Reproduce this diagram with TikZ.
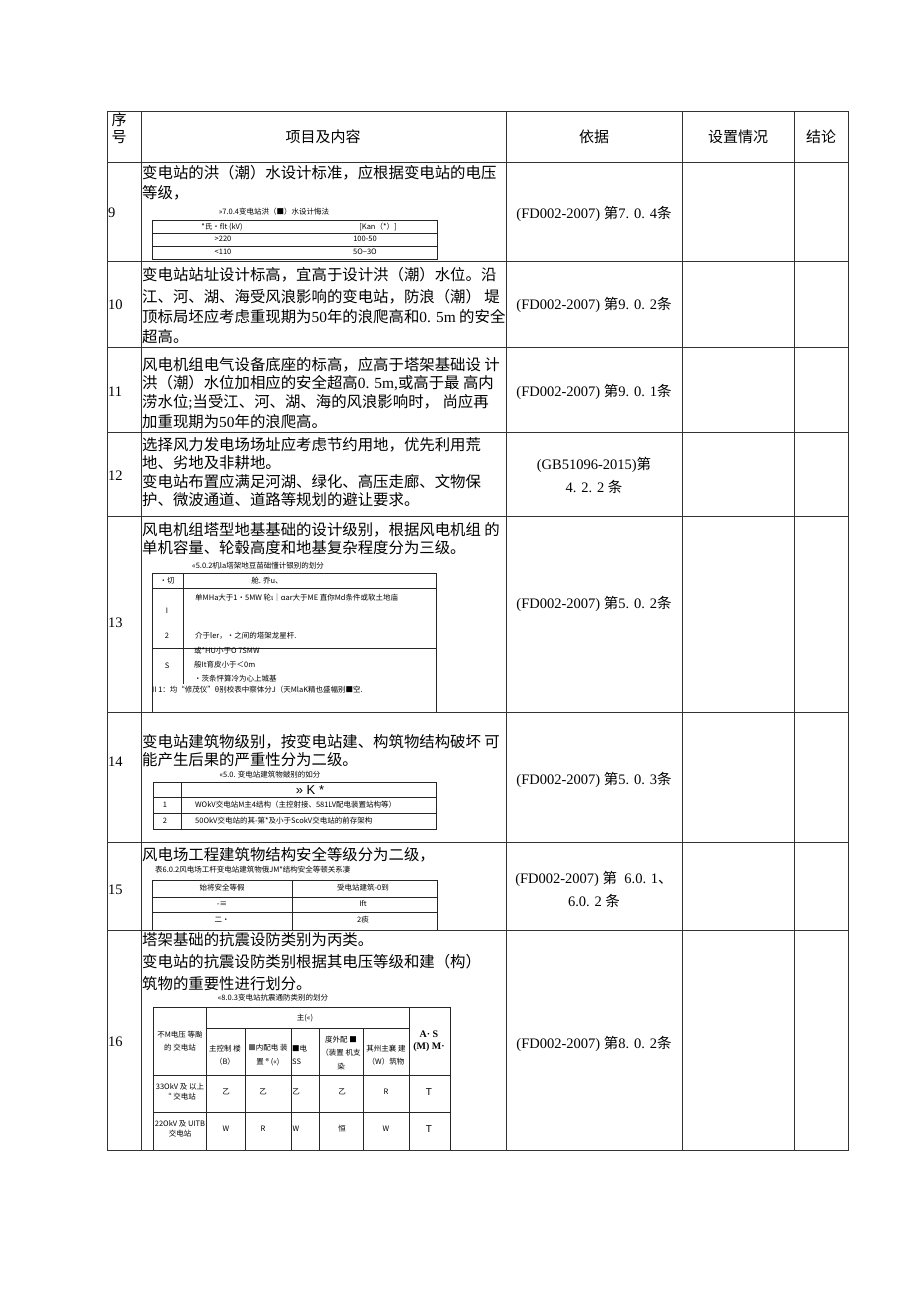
\documentclass[tikz,border=0pt]{standalone}
\usepackage{fontspec}
\setmainfont{Noto Sans CJK SC}
\newfontfamily\tnr{Liberation Serif}
\newfontfamily\ari{Liberation Sans}
\newcommand{\lat}[1]{{\tnr #1}}
\usepackage{tikz}

\begin{document}
\begin{tikzpicture}[x=1pt, y=-1pt,
    linie/.style={line width=0.7pt, draw=black!80},
    fein/.style={line width=0.5pt, draw=black!85},
    zeile/.style={anchor=west, inner sep=0pt, font=\fontsize{15.4}{18}\selectfont},
    kopf/.style={inner sep=0pt, font=\fontsize{15}{18}\selectfont},
    nr/.style={anchor=west, inner sep=0pt, font=\tnr\fontsize{14.5}{17}\selectfont},
    quelle/.style={inner sep=0pt, align=center, font=\fontsize{14.5}{23}\selectfont},
    klein/.style={inner sep=0pt, font=\fontsize{7.5}{9}\selectfont},
    kleinl/.style={klein, anchor=west},
    kleinz/.style={inner sep=0pt, align=center, font=\fontsize{7.5}{13.5}\selectfont}]

    \useasboundingbox (0,0) rectangle (920,1301);

    % Zeichne Tabellenrahmen und Linien
    \draw[linie] (107,111) rectangle (848,1150);
    \draw[linie] (107,162) -- (848,162) (107,261) -- (848,261)
                 (107,347) -- (848,347) (107,432) -- (848,432)
                 (107,516) -- (848,516) (107,712) -- (848,712)
                 (107,842) -- (848,842) (107,930) -- (848,930);
    \draw[linie] (141,111) -- (141,1150) (506,111) -- (506,1150)
                 (682,111) -- (682,1150) (794,111) -- (794,1150);

    % Kopfzeile
    \node[kopf] (sa) at (119,120) {序};
    \node[kopf] (sb) at (119,137) {号};
    \node[kopf] (kInhalt) at (323,137) {项目及内容};
    \node[kopf] (kGrund) at (594,137) {依据};
    \node[kopf] (kStand) at (738,137) {设置情况};
    \node[kopf] (kErg) at (821,137) {结论};

    % Nummern
    \node[nr] (n9) at (108,213) {9};
    \node[nr] (n10) at (108,305) {10};
    \node[nr] (n11) at (108,392) {11};
    \node[nr] (n12) at (108,476) {12};
    \node[nr] (n13) at (108,623) {13};
    \node[nr] (n14) at (108,762) {14};
    \node[nr] (n15) at (108,890) {15};
    \node[nr] (n16) at (108,1042) {16};

    % Zeile 9
    \node[zeile] (t9a) at (142,173) {变电站的洪（潮）水设计标准，应根据变电站的电压};
    \node[zeile] (t9b) at (142,193) {等级，};
    \node[klein] (c9) at (274,212) {»7.0.4变电站洪（■）水设计悔法};
    \draw[fein] (152,220) rectangle (437,259);
    \draw[fein] (152,233) -- (437,233) (152,246) -- (437,246);
    \node[klein] (h9a) at (222,227) {*氏·flt (kV)};
    \node[klein] (h9b) at (378,227) {[Kan（*）]};
    \node[klein] (w9a) at (223,239) {>220};
    \node[klein] (w9b) at (365,239) {100-50};
    \node[klein] (w9c) at (223,252) {<110};
    \node[klein] (w9d) at (365,252) {5O−3O};

    % Zeile 10
    \node[zeile] (t10a) at (142,275) {变电站站址设计标高，宜高于设计洪（潮）水位。沿};
    \node[zeile] (t10b) at (142,297) {江、河、湖、海受风浪影响的变电站，防浪（潮） 堤};
    \node[zeile] (t10c) at (142,317) {顶标局坯应考虑重现期为\lat{50}年的浪爬高和\lat{0. 5m} 的安全};
    \node[zeile] (t10d) at (142,337) {超高。};

    % Zeile 11
    \node[zeile] (t11a) at (142,365) {风电机组电气设备底座的标高，应高于塔架基础设 计};
    \node[zeile] (t11b) at (142,383) {洪（潮）水位加相应的安全超高\lat{0. 5m,}或高于最 高内};
    \node[zeile] (t11c) at (142,402) {涝水位\lat{;}当受江、河、湖、海的风浪影响时， 尚应再};
    \node[zeile] (t11d) at (142,422) {加重现期为\lat{50}年的浪爬高。};

    % Zeile 12
    \node[zeile] (t12a) at (142,445) {选择风力发电场场址应考虑节约用地，优先利用荒};
    \node[zeile] (t12b) at (142,463) {地、劣地及非耕地。};
    \node[zeile] (t12c) at (142,482) {变电站布置应满足河湖、绿化、高压走廊、文物保};
    \node[zeile] (t12d) at (142,500) {护、微波通道、道路等规划的避让要求。};

    % Zeile 13
    \node[zeile] (t13a) at (142,530) {风电机组塔型地基基础的设计级别，根据风电机组 的};
    \node[zeile] (t13b) at (142,548) {单机容量、轮毂高度和地基复杂程度分为三级。};
    \node[klein] (c13) at (258,566) {«5.0.2机la塔架地豆苗础懂计银别的划分};
    \draw[fein] (152,712) -- (152,573) -- (436,573) -- (436,712);
    \draw[fein] (152,588) -- (436,588) (152,648) -- (436,648) (183,573) -- (183,684);
    \node[klein] (h13a) at (167,581) {·切};
    \node[klein] (h13b) at (267,581) {舱. 乔u、};
    \node[kleinl] (w13a) at (195,598) {单MHa大于1・5MW 轮ι｜αar大于ME 直你Md条件或软土地庙};
    \node[klein] (w13b) at (167,611) {I};
    \node[klein] (w13c) at (167,636) {2};
    \node[kleinl] (w13d) at (195,636) {介于ler，•之间的塔架龙星杆.};
    \node[kleinl] (w13e) at (194,651) {或*HU小于O 7SMW};
    \node[klein] (w13f) at (167,666) {S};
    \node[kleinl] (w13g) at (194,665) {般It育皮小于＜0m};
    \node[kleinl] (w13h) at (194,679) {•茨条怦算冷为心上城基};
    \node[kleinl] (w13i) at (152,690) {II 1：均“修茂仪”θ别校表中察体分J（天MlaK精也盛幅别■空.};

    % Zeile 14
    \node[zeile] (t14a) at (142,742) {变电站建筑物级别，按变电站建、构筑物结构破坏 可};
    \node[zeile] (t14b) at (142,760) {能产生后果的严重性分为二级。};
    \node[klein] (c14) at (270,775) {«5.0. 变电站建筑物皴别的如分};
    \draw[fein] (153,782) rectangle (436,829);
    \draw[fein] (153,797) -- (436,797) (153,813) -- (436,813) (181,782) -- (181,829);
    \node[inner sep=0pt, font=\ari\fontsize{13}{15}\selectfont] (h14) at (310,790) {» K *};
    \node[klein] (w14a) at (165,805) {1};
    \node[kleinl] (w14b) at (195,805) {WOkV交电站M主4结构（主控射接、581LV配电装置站构等）};
    \node[klein] (w14c) at (165,821) {2};
    \node[kleinl] (w14d) at (195,821) {50OkV交电站的其-第*及小于ScokV交电站的前存架构};

    % Zeile 15
    \node[zeile] (t15a) at (142,855) {风电场工程建筑物结构安全等级分为二级，};
    \node[kleinl] (c15) at (155,870) {表6.0.2风电场工杆变电站建筑物俄JM*结构安全等顿关系凄};
    \draw[fein] (152,930) -- (152,880) -- (437,880) -- (437,930);
    \draw[fein] (152,897) -- (437,897) (152,912) -- (437,912) (292,880) -- (292,930);
    \node[klein] (h15a) at (222,888) {始将安全等假};
    \node[klein] (h15b) at (363,888) {受电站建筑-0到};
    \node[klein] (w15a) at (222,904) {-≡};
    \node[klein] (w15b) at (363,904) {Ift};
    \node[klein] (w15c) at (222,920) {二·};
    \node[klein] (w15d) at (363,920) {2痰};

    % Zeile 16
    \node[zeile] (t16a) at (142,940) {塔架基础的抗震设防类别为丙类。};
    \node[zeile] (t16b) at (142,962) {变电站的抗震设防类别根据其电压等级和建（构）};
    \node[zeile] (t16c) at (142,984) {筑物的重要性进行划分。};
    \node[klein] (c16) at (273,998) {«8.0.3变电站抗震通防类别的划分};
    \draw[fein] (153,1150) -- (153,1007) -- (450,1007) -- (450,1150);
    \draw[fein] (206,1007) -- (206,1150) (409,1007) -- (409,1150) (206,1028) -- (409,1028);
    \draw[fein] (245,1028) -- (245,1150) (291,1028) -- (291,1150)
                (319,1028) -- (319,1150) (363,1028) -- (363,1150);
    \draw[fein] (153,1075) -- (450,1075) (153,1112) -- (450,1112);
    \node[klein] (h16) at (305,1018) {主(«)};
    \node[kleinz] (h16a) at (180,1041) {不M电压 等颱\\的 交电站};
    \node[kleinz] (h16b) at (225,1055) {主控制 楼\\（B）};
    \node[kleinz] (h16c) at (268,1055) {{\color{black!60}■}内配电 装\\置 ® («)};
    \node[kleinz, anchor=west, align=left] (h16d) at (292,1055) {■电\\SS};
    \node[kleinz] (h16e) at (341,1053) {度外配 ■\\（装置 机支\\染};
    \node[kleinz] (h16f) at (386,1055) {其州主襄 建\\（W）筑物};
    \node[inner sep=0pt, align=center, font=\tnr\bfseries\fontsize{10}{12}\selectfont] (h16g) at (429,1041) {A· S\\(M) M·};
    \node[klein, align=center, font=\fontsize{7.5}{10}\selectfont] (w16a) at (180,1092) {33OkV 及 以上\\“ 交电站};
    \node[klein] (w16b) at (226,1092) {乙};
    \node[klein] (w16c) at (263,1092) {乙};
    \node[klein] (w16d) at (296,1092) {乙};
    \node[klein] (w16e) at (342,1092) {乙};
    \node[klein] (w16f) at (386,1092) {R};
    \node[inner sep=0pt, font=\ari\fontsize{10}{12}\selectfont] (w16g) at (429,1092) {T};
    \node[klein, align=center, font=\fontsize{7.5}{10}\selectfont] (w16h) at (180,1129) {22OkV 及 UITB\\交电站};
    \node[klein] (w16i) at (226,1129) {W};
    \node[klein] (w16j) at (263,1129) {R};
    \node[klein] (w16k) at (296,1129) {W};
    \node[klein] (w16l) at (342,1129) {恒};
    \node[klein] (w16m) at (386,1129) {W};
    \node[inner sep=0pt, font=\ari\fontsize{10}{12}\selectfont] (w16n) at (429,1129) {T};

    % Spalte Grundlage
    \node[quelle] (q9) at (594,214) {\lat{(FD002-2007) }第\lat{7. 0. 4}条};
    \node[quelle] (q10) at (594,305) {\lat{(FD002-2007) }第\lat{9. 0. 2}条};
    \node[quelle] (q11) at (594,392) {\lat{(FD002-2007) }第\lat{9. 0. 1}条};
    \node[quelle] (q12) at (594,475) {\lat{(GB51096-2015)}第\\\lat{4. 2. 2 }条};
    \node[quelle] (q13) at (594,604) {\lat{(FD002-2007) }第\lat{5. 0. 2}条};
    \node[quelle] (q14) at (594,780) {\lat{(FD002-2007) }第\lat{5. 0. 3}条};
    \node[quelle] (q15) at (594,889) {\lat{(FD002-2007) }第\lat{\ \ 6.0. 1}、\\\lat{6.0. 2 }条};
    \node[quelle] (q16) at (594,1044) {\lat{(FD002-2007) }第\lat{8. 0. 2}条};

\end{tikzpicture}
\end{document}
